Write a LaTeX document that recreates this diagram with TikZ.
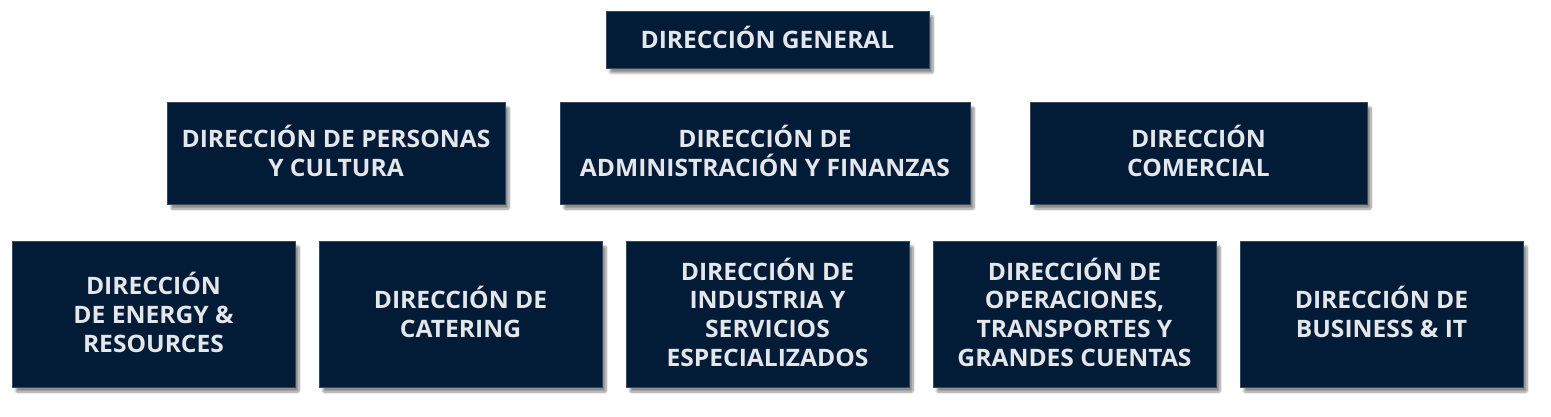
\documentclass[tikz,border=0pt]{standalone}
\usepackage{fontspec}
\setmainfont{Open Sans}[FakeStretch=1.025]
\usetikzlibrary{shadows.blur}
\definecolor{navy}{HTML}{021C38}
\definecolor{txt}{HTML}{E4E6EA}
\begin{document}
\begin{tikzpicture}[x=1pt,y=-1pt,
  orgbox/.style={fill=navy, draw=navy!80!white, line width=0.6pt, inner sep=0pt,
    blur shadow={shadow xshift=4pt, shadow yshift=-5pt, shadow blur steps=8, shadow blur extra rounding=1pt, shadow opacity=45}},
  orgtext/.style={text=txt, font=\bfseries\fontsize{24}{28.8}\selectfont, align=center, inner sep=0pt, yshift=1.8pt}]
\useasboundingbox (0,0) rectangle (1551,417);
\newcommand{\orgnode}[6]{\node[orgbox, minimum width=#4-#2, minimum height=#5-#3,
  label={[orgtext]center:#6}] (#1) at ({(#2+#4)/2},{(#3+#5)/2}) {};}
\orgnode{dg}{606}{11}{929}{68}{DIRECCIÓN GENERAL}
\orgnode{pc}{167}{102}{505}{204}{DIRECCIÓN DE PERSONAS\\Y CULTURA}
\orgnode{af}{560}{102}{970}{204}{DIRECCIÓN DE\\ADMINISTRACIÓN Y FINANZAS}
\orgnode{co}{1030}{102}{1367}{204}{DIRECCIÓN\\COMERCIAL}
\orgnode{er}{12}{241}{295}{387}{DIRECCIÓN\\DE ENERGY \&\\RESOURCES}
\orgnode{ca}{319}{241}{602}{387}{DIRECCIÓN DE\\CATERING}
\orgnode{is}{626}{241}{909}{387}{DIRECCIÓN DE\\INDUSTRIA Y\\SERVICIOS\\ESPECIALIZADOS}
\orgnode{op}{933}{241}{1216}{387}{DIRECCIÓN DE\\OPERACIONES,\\TRANSPORTES Y\\GRANDES CUENTAS}
\orgnode{bi}{1240}{241}{1523}{387}{DIRECCIÓN DE\\BUSINESS \& IT}
\end{tikzpicture}
\end{document}
